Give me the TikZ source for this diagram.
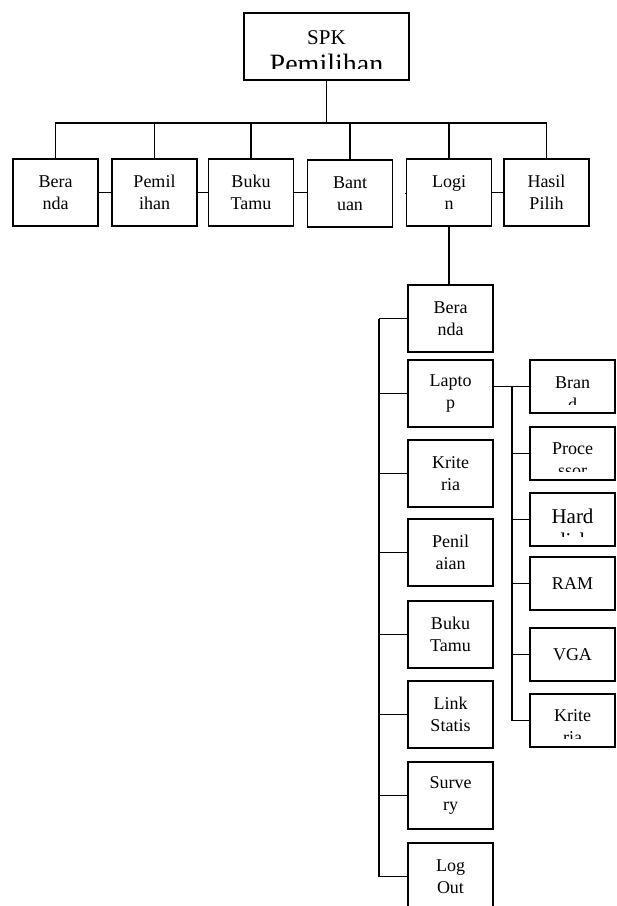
\documentclass[tikz,border=0pt]{standalone}
\usepackage{fontspec}
\setmainfont{Liberation Serif}

\begin{document}
\begin{tikzpicture}[
  x=1pt, y=-1pt,
  box/.style={draw, line width=1.4pt, minimum width=85pt, minimum height=67pt, inner sep=0pt, align=center, font=\fontsize{18}{22}\selectfont},
  subbox/.style={box, minimum height=53pt},
  txt/.style={anchor=north, inner sep=0pt, align=center, font=\fontsize{18}{22}\selectfont},
  conn/.style={line width=1.4pt}
]
  \useasboundingbox (0,0) rectangle (617,906);

  \node[box, minimum width=165pt] (spk) at (326.5,46.5) {};
  \begin{scope}
    \clip (spk.north west) rectangle ([yshift=12]spk.south east);
    \node[txt, font=\fontsize{21}{28.5}\selectfont] (spktext) at ([yshift=-18.5]spk.north) {SPK\\{\fontsize{28}{28.5}\selectfont Pemilihan}};
  \end{scope}

  \node[box] (beranda) at (55.5,192.5) {Bera\\nda};
  \node[box] (pemilihan) at (154.5,192.5) {Pemil\\ihan};
  \node[box] (bukutamu) at (251,192.5) {Buku\\Tamu};
  \node[box] (bantuan) at (350,193.5) {Bant\\uan};
  \node[box] (login) at (449,192.5) {Logi\\n};
  \node[box] (hasilpilih) at (546.5,192.5) {Hasil\\Pilih};

  \node[box] (aberanda) at (450.5,318.5) {Bera\\nda};
  \node[box] (laptop) at (450.5,393.5) {Lapto\\p};
  \node[box] (kriteria) at (450.5,473.5) {Krite\\ria};
  \node[box] (penilaian) at (450.5,552.5) {Penil\\aian};
  \node[box] (abukutamu) at (450.5,634.5) {Buku\\Tamu};
  \node[box] (linkstatis) at (450.5,714.5) {Link\\Statis};
  \node[box] (survery) at (450.5,795.5) {Surve\\ry};
  \node[box] (logout) at (450.5,876.5) {Log\\Out};

  \node[subbox] (brand) at (572.5,386.5) {};
  \node[subbox] (processor) at (572.5,453.5) {};
  \node[subbox] (harddisk) at (572.5,519.5) {};
  \node[subbox] (ram) at (572.5,583.5) {RAM};
  \node[subbox] (vga) at (572.5,654.5) {VGA};
  \node[subbox] (lkriteria) at (572.5,720.5) {};

  \begin{scope}
    \clip (brand.north west) rectangle ([yshift=9.5]brand.south east);
    \node[txt] (brandtext) at ([yshift=-17]brand.north) {Bran\\d};
  \end{scope}
  \begin{scope}
    \clip (processor.north west) rectangle ([yshift=9.5]processor.south east);
    \node[txt] (processortext) at ([yshift=-16.5]processor.north) {Proce\\ssor};
  \end{scope}
  \begin{scope}
    \clip (harddisk.north west) rectangle ([yshift=10]harddisk.south east);
    \node[txt, font=\fontsize{21}{24}\selectfont] (harddisktext) at ([yshift=-16.5]harddisk.north) {Hard\\disk};
  \end{scope}
  \begin{scope}
    \clip (lkriteria.north west) rectangle ([yshift=9.5]lkriteria.south east);
    \node[txt] (lkriteriatext) at ([yshift=-16]lkriteria.north) {Krite\\ria};
  \end{scope}

  \coordinate (topbus) at (326.5,123);
  \draw[conn] (spk) -- (topbus);
  \draw[conn] (beranda.north) |- (topbus);
  \draw[conn] (pemilihan.north) |- (topbus);
  \draw[conn] (bukutamu.north) |- (topbus);
  \draw[conn] (bantuan.north) |- (topbus);
  \draw[conn] (login.north) |- (topbus);
  \draw[conn] (hasilpilih.north) |- (topbus);

  \draw[conn] (beranda) -- (pemilihan);
  \draw[conn] (pemilihan) -- (bukutamu);
  \draw[conn] (bukutamu.east) -- (bukutamu.east -| bantuan.west);
  \draw[conn] (bantuan.west -| login.west) -- (login.west);
  \draw[conn] (login) -- (hasilpilih);

  \draw[conn] (login.south) -- (login.south |- aberanda.north);

  \coordinate (leftbus) at (379,318.5);
  \draw[conn] (aberanda.west) -| (leftbus);
  \draw[conn] (laptop.west) -| (leftbus);
  \draw[conn] (kriteria.west) -| (leftbus);
  \draw[conn] (penilaian.west) -| (leftbus);
  \draw[conn] (abukutamu.west) -| (leftbus);
  \draw[conn] (linkstatis.west) -| (leftbus);
  \draw[conn] (survery.west) -| (leftbus);
  \draw[conn] (logout.west) -| (leftbus);

  \draw[conn] (laptop.east |- brand.west) -- (brand.west);
  \coordinate (rightbus) at (512,386.5);
  \draw[conn] (processor.west) -| (rightbus);
  \draw[conn] (harddisk.west) -| (rightbus);
  \draw[conn] (ram.west) -| (rightbus);
  \draw[conn] (vga.west) -| (rightbus);
  \draw[conn] (lkriteria.west) -| (rightbus);
\end{tikzpicture}
\end{document}
